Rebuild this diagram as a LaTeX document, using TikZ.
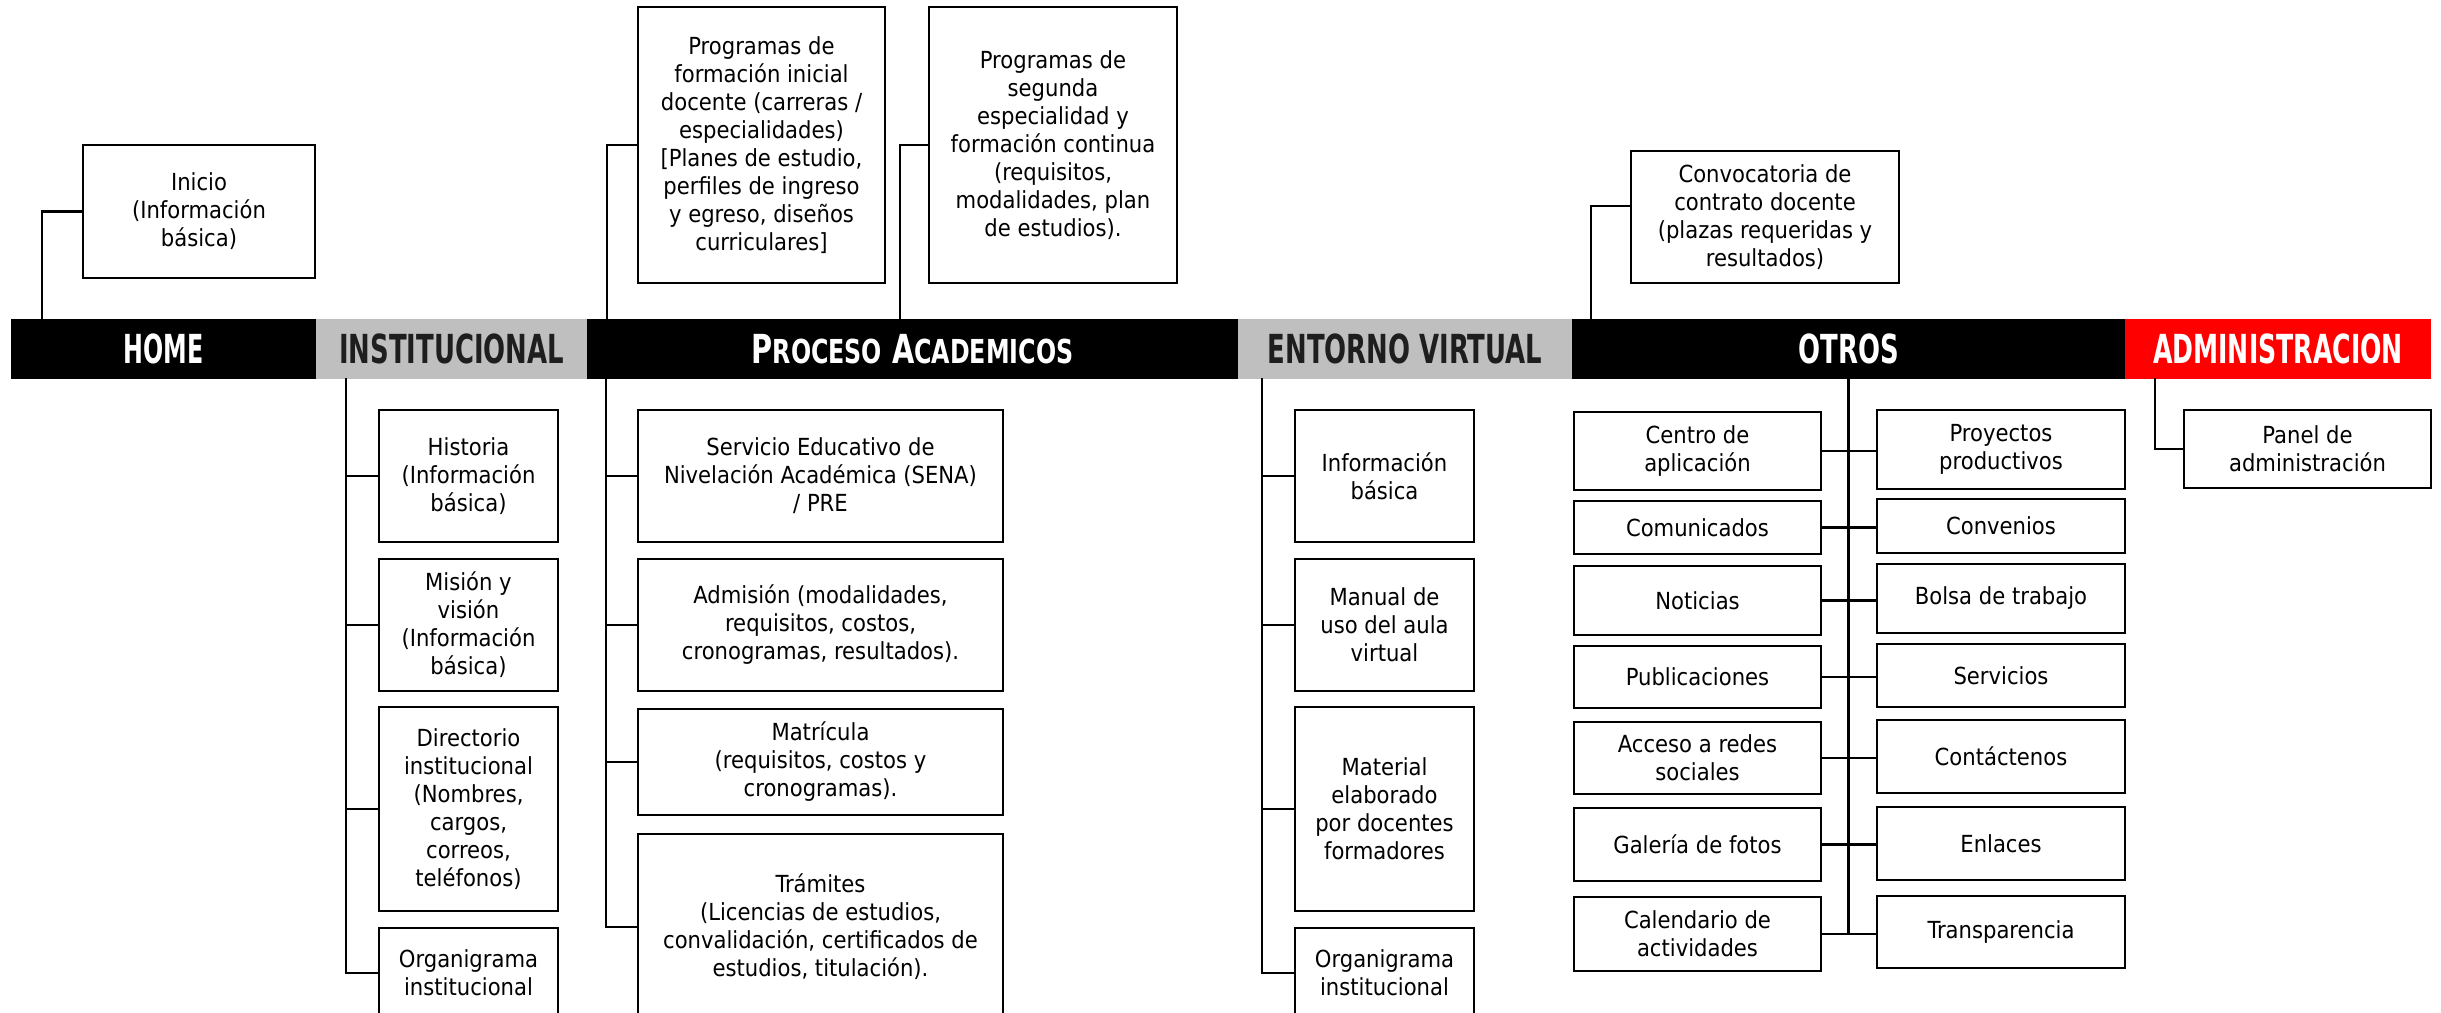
\documentclass[tikz,border=0pt]{standalone}
\usepackage{fontspec}
\setmainfont{DejaVu Sans Condensed}
\newfontfamily\headfont{DejaVu Sans Condensed Bold}
\usetikzlibrary{positioning}
\newcommand\hdtext[2][0.72]{\scalebox{#1}[1]{\headfont #2}}
\newcommand\hdsmall{\fontsize{33}{33}\selectfont}

\begin{document}
\begin{tikzpicture}[x=1pt,y=-1pt,line cap=rect]
	\definecolor{barblack}{RGB}{0,0,0}
	\definecolor{bargrey}{RGB}{191,191,191}
	\definecolor{barred}{RGB}{255,0,0}
	\definecolor{txtdark}{RGB}{30,30,30}
	\tikzset{
		seg/.style={anchor=north west, inner sep=0, outer sep=0, minimum height=60pt, font=\fontsize{40}{40}\selectfont, text=white, fill=barblack},
		seggrey/.style={seg, fill=bargrey, text=txtdark},
		box/.style={draw, line width=2.6pt, anchor=north west, inner sep=0, outer sep=0, align=center, font=\fontsize{23.5}{28}\selectfont},
		link/.style={line width=2.4pt},
	}
	\useasboundingbox (0,0) rectangle (2441,1012);
	\clip (0,0) rectangle (2441,1012);
	% menu bar
	\node[seg, minimum width=305pt] (home) at (11,319) {\hdtext[0.66]{HOME}};
	\node[seggrey, minimum width=271pt, right=0pt of home] (inst) {\hdtext{INSTITUCIONAL}};
	\node[seg, minimum width=651pt, right=0pt of inst] (proc) {\hdtext[0.8]{P{\hdsmall ROCESO} A{\hdsmall CADEMICOS}}};
	\node[seggrey, minimum width=334pt, right=0pt of proc] (entv) {\hdtext{ENTORNO VIRTUAL}};
	\node[seg, minimum width=553pt, right=0pt of entv] (otros) {\hdtext{OTROS}};
	\node[seg, fill=barred, minimum width=306pt, right=0pt of otros] (admin) {\hdtext[0.7]{ADMINISTRACION}};
	% boxes above the bar
	\node[box, minimum width=232pt, minimum height=133pt] (inicio) at (83,145) {Inicio\\(Información\\básica)};
	\node[box, minimum width=247pt, minimum height=276pt] (progini) at (638,7) {Programas de\\formación inicial\\docente (carreras /\\especialidades)\\{[}Planes de estudio,\\perfiles de ingreso\\y egreso, diseños\\curriculares{]}};
	\node[box, minimum width=248pt, minimum height=276pt] (progseg) at (929,7) {Programas de\\segunda\\especialidad y\\formación continua\\(requisitos,\\modalidades, plan\\de estudios).};
	\node[box, minimum width=268pt, minimum height=132pt] (conv) at (1631,151) {Convocatoria de\\contrato docente\\(plazas requeridas y\\resultados)};
	% institucional
	\node[box, minimum width=179pt, minimum height=132pt] (hist) at (379,410) {Historia\\(Información\\básica)};
	\node[box, minimum width=179pt, minimum height=132pt] (mision) at (379,559) {Misión y\\visión\\(Información\\básica)};
	\node[box, minimum width=179pt, minimum height=204pt] (direc) at (379,707) {Directorio\\institucional\\(Nombres,\\cargos,\\correos,\\teléfonos)};
	\node[box, minimum width=179pt, minimum height=90pt] (organi) at (379,928) {Organigrama\\institucional};
	% proceso academicos
	\node[box, minimum width=365pt, minimum height=132pt] (sena) at (638,410) {Servicio Educativo de\\Nivelación Académica (SENA)\\/ PRE};
	\node[box, minimum width=365pt, minimum height=132pt] (admis) at (638,559) {Admisión (modalidades,\\requisitos, costos,\\cronogramas, resultados).};
	\node[box, minimum width=365pt, minimum height=106pt] (matri) at (638,709) {Matrícula\\(requisitos, costos y\\cronogramas).};
	\node[box, minimum width=365pt, minimum height=186pt] (trami) at (638,834) {Trámites\\(Licencias de estudios,\\convalidación, certificados de\\estudios, titulación).};
	% entorno virtual
	\node[box, minimum width=179pt, minimum height=132pt] (evinfo) at (1295,410) {Información\\básica};
	\node[box, minimum width=179pt, minimum height=132pt] (evman) at (1295,559) {Manual de\\uso del aula\\virtual};
	\node[box, minimum width=179pt, minimum height=204pt] (evmat) at (1295,707) {Material\\elaborado\\por docentes\\formadores};
	\node[box, minimum width=179pt, minimum height=90pt] (evorg) at (1295,928) {Organigrama\\institucional};
	% otros
	\node[box, minimum width=247pt, minimum height=78pt] (centro) at (1574,412) {Centro de\\aplicación};
	\node[box, minimum width=247pt, minimum height=53pt] (comun) at (1574,501) {Comunicados};
	\node[box, minimum width=247pt, minimum height=69pt] (notic) at (1574,566) {Noticias};
	\node[box, minimum width=247pt, minimum height=62pt] (publi) at (1574,646) {Publicaciones};
	\node[box, minimum width=247pt, minimum height=72pt] (redes) at (1574,722) {Acceso a redes\\sociales};
	\node[box, minimum width=247pt, minimum height=73pt] (galer) at (1574,808) {Galería de fotos};
	\node[box, minimum width=247pt, minimum height=74pt] (calen) at (1574,897) {Calendario de\\actividades};
	\node[box, minimum width=248pt, minimum height=79pt] (proye) at (1877,410) {Proyectos\\productivos};
	\node[box, minimum width=248pt, minimum height=54pt] (conve) at (1877,499) {Convenios};
	\node[box, minimum width=248pt, minimum height=69pt] (bolsa) at (1877,564) {Bolsa de trabajo};
	\node[box, minimum width=248pt, minimum height=63pt] (servi) at (1877,644) {Servicios};
	\node[box, minimum width=248pt, minimum height=73pt] (conta) at (1877,720) {Contáctenos};
	\node[box, minimum width=248pt, minimum height=73pt] (enlac) at (1877,807) {Enlaces};
	\node[box, minimum width=248pt, minimum height=72pt] (trans) at (1877,896) {Transparencia};
	% administracion
	\node[box, minimum width=247pt, minimum height=78pt] (panel) at (2184,410) {Panel de\\administración};
	% links
	\draw[link] (home.north west) ++(31,0) |- (inicio.west);
	\draw[link] (proc.north west) ++(20,0) |- (progini.west);
	\draw[link] (proc.north west) ++(313,0) |- (progseg.west);
	\draw[link] (otros.north west) ++(19,0) |- ([yshift=11pt]conv.west);
	\foreach \c in {hist,mision,direc,organi}
		\draw[link] (inst.south west) ++(30,0) |- (\c.west);
	\foreach \c in {sena,admis,matri,trami}
		\draw[link] (proc.south west) ++(19,0) |- (\c.west);
	\foreach \c in {evinfo,evman,evmat,evorg}
		\draw[link] (entv.south west) ++(24,0) |- (\c.west);
	\draw[link] (otros.south) -- (otros.south |- calen.east);
	\foreach \l/\r in {centro/proye,comun/conve,notic/bolsa,publi/servi,redes/conta,galer/enlac,calen/trans}
		\draw[link] (\l.east) -- (\l.east -| \r.west);
	\draw[link] (admin.south west) ++(30,0) |- (panel.west);
\end{tikzpicture}
\end{document}
